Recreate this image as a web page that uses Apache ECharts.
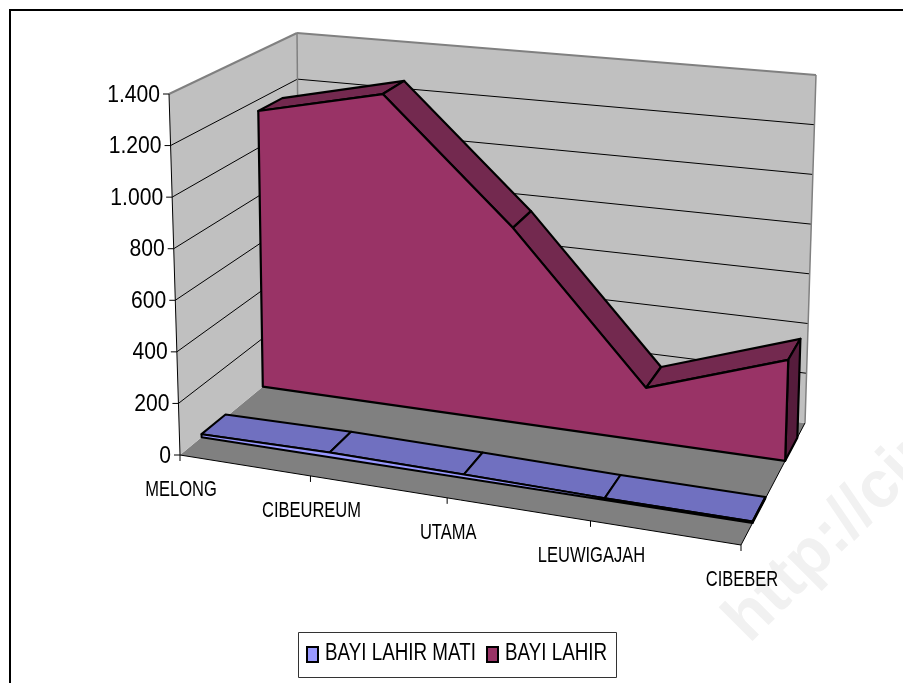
<!DOCTYPE html>
<html lang="en">
<head>
<meta charset="UTF-8">
<title>Bayi lahir</title>
<style>
html,body{margin:0;padding:0;background:#fff;}
#chart{width:903px;height:683px;}
</style>
</head>
<body>
<div id="chart"></div>
<script src="https://cdn.jsdelivr.net/npm/echarts@6/dist/echarts.min.js"></script>
<script>
var categories = ['MELONG', 'CIBEUREUM', 'UTAMA', 'LEUWIGAJAH', 'CIBEBER'];
var valueTicks = [0, 200, 400, 600, 800, 1000, 1200, 1400];
var tickLabels = ['0', '200', '400', '600', '800', '1.000', '1.200', '1.400'];
var seriesNames = ['BAYI LAHIR MATI', 'BAYI LAHIR'];
var seriesMati = [12, 18, 14, 7, 6];
var seriesLahir = [1153, 1273, 783, 210, 392];

// box corners on the page, f = front, b = back, l/r = left/right, 0/1 = floor/top
var box = {
	fl0: [180, 455], fr0: [741, 545], bl0: [300, 356], br0: [805, 423],
	fl1: [169, 94],  fr1: [752, 156], bl1: [297, 33],  br1: [816, 75]
};
var vMax = 1400;
var persp = 1.1;      // categories get wider to the right
var bandMati = [0.18, 0.38];
var bandLahir = [0.69, 0.88];
var colorMati = '#9999ff';
var colorLahir = '#993366';

function mix(a, b, t) {
	return [a[0] + (b[0] - a[0]) * t, a[1] + (b[1] - a[1]) * t];
}
// cat index, value, depth 0..1 -> page position
function project(c, v, d) {
	var u = c / (categories.length - 1);
	var s = u / (u + persp * (1 - u));
	var bottom = mix(mix(box.fl0, box.fr0, s), mix(box.bl0, box.br0, s), d);
	var top = mix(mix(box.fl1, box.fr1, s), mix(box.bl1, box.br1, s), d);
	return mix(bottom, top, v / vMax);
}

function poly(api, pts, fill, stroke, lw) {
	return {
		type: 'polygon',
		shape: { points: pts.map(function (p) { return api.coord(p); }) },
		style: { fill: fill, stroke: stroke || null, lineWidth: lw || 0, lineJoin: 'round' }
	};
}
function line(api, a, b, color, lw) {
	var p = api.coord(a), q = api.coord(b);
	return {
		type: 'line',
		shape: { x1: p[0], y1: p[1], x2: q[0], y2: q[1] },
		style: { stroke: color, lineWidth: lw }
	};
}
function label(api, pos, text, opt) {
	var p = api.coord(pos);
	return {
		type: 'text', x: p[0], y: p[1], scaleX: opt.scaleX || 1,
		style: {
			text: text, fill: '#000', fontFamily: '"Liberation Sans"', fontSize: opt.size,
			align: opt.align, verticalAlign: 'middle'
		}
	};
}

function renderBox(params, api) {
	var kids = [];
	var n = categories.length - 1;
	kids.push(poly(api, [box.fl0, box.fr0, box.br0, box.bl0], '#808080'));
	kids.push(poly(api, [box.fl0, box.bl0, box.bl1, box.fl1], '#c0c0c0'));
	kids.push(poly(api, [box.bl0, box.br0, box.br1, box.bl1], '#c0c0c0'));
	// grid lines
	valueTicks.forEach(function (v, i) {
		if (i === 0 || i === valueTicks.length - 1) return;
		var a = project(0, v, 0), b = project(0, v, 1), c = project(n, v, 1);
		kids.push(line(api, a, b, '#000', 1));
		kids.push(line(api, b, c, '#000', 1));
	});
	// wall edges
	kids.push(line(api, box.fl1, box.bl1, '#808080', 2));
	kids.push(line(api, box.bl1, box.br1, '#808080', 2));
	kids.push(line(api, box.bl1, box.bl0, '#808080', 1.5));
	kids.push(line(api, box.br1, box.br0, '#808080', 1.5));
	// axes
	kids.push(line(api, box.fl1, box.fl0, '#000', 1));
	kids.push(line(api, box.fl0, box.fr0, '#000', 1));
	kids.push(line(api, box.fr0, box.br0, '#000', 1));
	valueTicks.forEach(function (v, i) {
		var p = project(0, v, 0);
		kids.push(line(api, p, [p[0] - 6, p[1]], '#000', 1));
		kids.push(label(api, [p[0] - 9, p[1] + 1], tickLabels[i], {
			size: 24, align: 'right', scaleX: 0.88
		}));
	});
	categories.forEach(function (name, i) {
		var p = project(i, 0, 0);
		kids.push(line(api, p, [p[0], p[1] + 6], '#000', 1));
		kids.push(label(api, [p[0] + 1, p[1] + 35], name, {
			size: 22, align: 'center', scaleX: 0.75
		}));
	});
	return { type: 'group', children: kids };
}

// a 3D area ribbon between depths band[0] and band[1]
function ribbon(band, frontColor, topColor, sideColor, lw) {
	return function (params, api) {
		if (params.dataIndex > 0) return;
		var n = categories.length;
		var kids = [];
		var vals = [];
		for (var i = 0; i < n; i++) vals.push(api.value(1, i));
		// top faces
		for (i = 0; i < n - 1; i++) {
			kids.push(poly(api, [
				project(i, vals[i], band[0]), project(i + 1, vals[i + 1], band[0]),
				project(i + 1, vals[i + 1], band[1]), project(i, vals[i], band[1])
			], topColor, '#000', lw));
		}
		// right end
		kids.push(poly(api, [
			project(n - 1, 0, band[0]), project(n - 1, vals[n - 1], band[0]),
			project(n - 1, vals[n - 1], band[1]), project(n - 1, 0, band[1])
		], sideColor, '#000', lw));
		// front face
		var pts = [project(0, 0, band[0])];
		for (i = 0; i < n; i++) pts.push(project(i, vals[i], band[0]));
		pts.push(project(n - 1, 0, band[0]));
		kids.push(poly(api, pts, frontColor, '#000', lw));
		return { type: 'group', children: kids };
	};
}

function toData(vals) {
	return vals.map(function (v, i) { return [i, v]; });
}

// legend text in the picture is squeezed, the legend component can't do that
function legendItem(name, color, x) {
	return [
		{
			type: 'rect', silent: true, z: 10,
			shape: { x: x, y: 647, width: 11, height: 15 },
			style: { fill: color, stroke: '#000', lineWidth: 2 }
		},
		{
			type: 'text', silent: true, z: 10, x: x + 18, y: 653, scaleX: 0.765,
			style: {
				text: name, fill: '#000', fontFamily: '"Liberation Sans"', fontSize: 24.6,
				verticalAlign: 'middle'
			}
		}
	];
}

var chart = echarts.init(document.getElementById('chart'));
chart.setOption({
	animation: false,
	backgroundColor: '#fff',
	grid: { left: 0, right: 0, top: 0, bottom: 0 },
	xAxis: { type: 'value', min: 0, max: 903, show: false },
	yAxis: { type: 'value', min: 0, max: 683, inverse: true, show: false },
	graphic: [
		{
			type: 'text', x: 713, y: 608, rotation: Math.PI / 4, z: -1, silent: true,
			style: { text: 'http://cir', fill: '#f1f1f1', font: 'bold 66px "Liberation Sans"' }
		},
		{
			type: 'polyline', z: 10, silent: true,
			shape: { points: [[10, 683], [10, 10], [903, 10]] },
			style: { stroke: '#000', lineWidth: 2, fill: null }
		},
		{
			type: 'rect', silent: true, z: 9,
			shape: { x: 298.5, y: 632.5, width: 318, height: 45 },
			style: { fill: '#fff', stroke: '#333', lineWidth: 1 }
		}
	].concat(legendItem(seriesNames[0], colorMati, 307), legendItem(seriesNames[1], colorLahir, 487)),
	series: [
		{
			name: 'box', type: 'custom', coordinateSystem: 'cartesian2d',
			data: [[0, 0]], renderItem: renderBox, silent: true, clip: false, z: 1
		},
		{
			name: seriesNames[1], type: 'custom', coordinateSystem: 'cartesian2d',
			data: toData(seriesLahir), itemStyle: { color: colorLahir }, z: 2,
			renderItem: ribbon(bandLahir, colorLahir, '#73294f', '#561c3c', 2.2)
		},
		{
			name: seriesNames[0], type: 'custom', coordinateSystem: 'cartesian2d',
			data: toData(seriesMati), itemStyle: { color: colorMati }, z: 3,
			renderItem: ribbon(bandMati, colorMati, '#7070c0', '#333', 2)
		}
	]
});
</script>
</body>
</html>
